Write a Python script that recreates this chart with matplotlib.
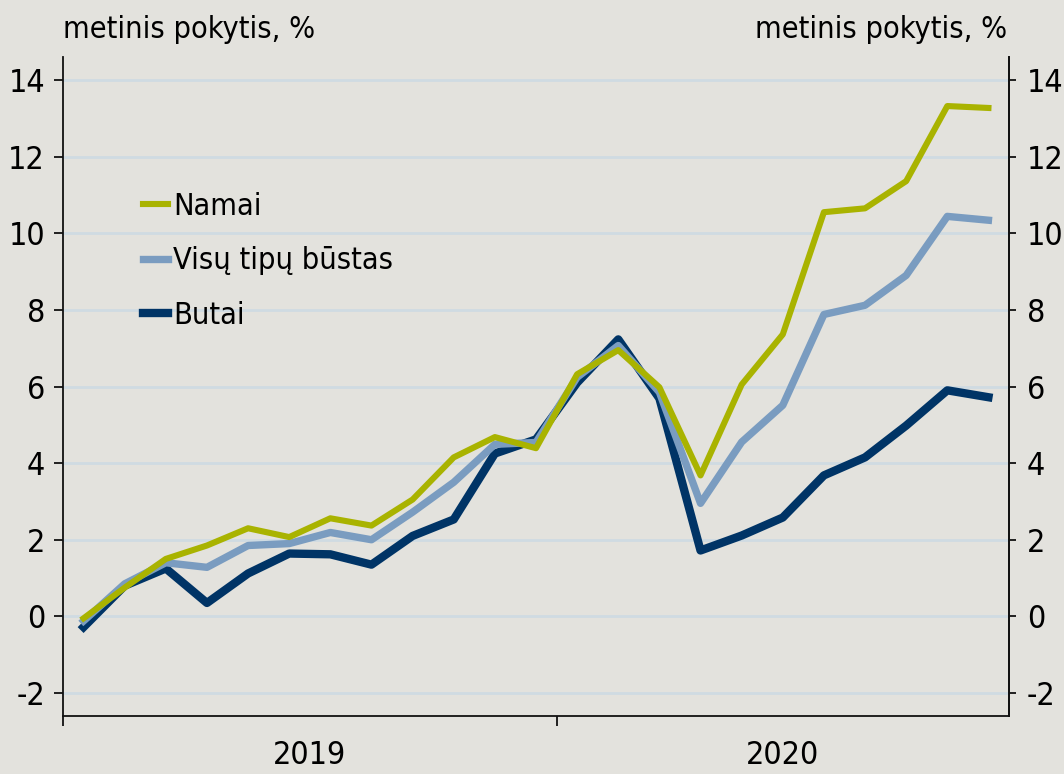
import matplotlib
matplotlib.use("Agg")
import matplotlib.pyplot as plt
import numpy as np

months = ["2019-01","2019-02","2019-03","2019-04","2019-05","2019-06","2019-07","2019-08",
          "2019-09","2019-10","2019-11","2019-12","2020-01","2020-02","2020-03","2020-04",
          "2020-05","2020-06","2020-07","2020-08","2020-09","2020-10","2020-11"]
namai = [-0.05, 0.75, 1.5, 1.85, 2.3, 2.07, 2.56, 2.37, 3.05, 4.15, 4.68, 4.39,
         6.32, 6.95, 5.98, 3.68, 6.05, 7.36, 10.55, 10.65, 11.36, 13.32, 13.27]
visu = [-0.12, 0.85, 1.4, 1.28, 1.85, 1.9, 2.19, 2.0, 2.72, 3.5, 4.49, 4.54,
        6.24, 7.07, 5.85, 2.95, 4.55, 5.51, 7.88, 8.12, 8.9, 10.44, 10.34]
butai = [-0.28, 0.8, 1.25, 0.35, 1.12, 1.64, 1.62, 1.35, 2.1, 2.53, 4.25, 4.62,
         6.1, 7.23, 5.69, 1.72, 2.11, 2.58, 3.68, 4.15, 4.98, 5.9, 5.72]
series_names = ["Namai", "Visų tipų būstas", "Butai"]
year_labels = ["2019", "2020"]
yticks = [-2, 0, 2, 4, 6, 8, 10, 12, 14]
ylabel = "metinis pokytis, %"

bg = "#e3e2dd"
c_namai = "#a9b300"
c_visu = "#7a9cc0"
c_butai = "#003466"
grid_c = "#cfdbe2"
ink = "#111111"

plt.rcParams["font.family"] = "DejaVu Sans"
plt.rcParams["font.stretch"] = "condensed"
FS = 22
FS_T = 23

fig = plt.figure(figsize=(10.64, 7.74), dpi=100, facecolor=bg)
ax = fig.add_axes([63/1064, 1-716/774, (1009-63)/1064, (716-57)/774])
ax.set_facecolor(bg)

x = np.arange(len(months))
ax.set_xlim(-0.5, len(months) - 0.5)
ax.set_ylim(-2.6, 14.6)

for v in yticks:
    ax.axhline(v, color=grid_c, lw=2, zorder=1)

ax.plot(x, butai, color=c_butai, lw=6.0, zorder=3, label=series_names[2])
ax.plot(x, visu, color=c_visu, lw=5.3, zorder=4, label=series_names[1])
ax.plot(x, namai, color=c_namai, lw=4.4, zorder=5, label=series_names[0])

ax.spines["top"].set_visible(False)
for s in ["left", "right", "bottom"]:
    ax.spines[s].set_color(ink)
    ax.spines[s].set_linewidth(1.3)

ax.set_yticks(yticks)
ax.set_yticklabels([str(v) for v in yticks])
ax.tick_params(axis="y", left=True, right=False, labelleft=True, labelright=False,
               length=6.5, width=1.3, color=ink, labelsize=FS_T, pad=6.5)
for lab in ax.get_yticklabels():
    lab.set_fontstretch("condensed")

ax2 = ax.twinx()
ax2.set_ylim(ax.get_ylim())
ax2.set_yticks(yticks)
ax2.set_yticklabels([str(v) for v in yticks])
ax2.tick_params(axis="y", right=True, labelright=True, length=5, width=1.3, color=ink,
                labelsize=FS_T, pad=8)
for lab in ax2.get_yticklabels():
    lab.set_fontstretch("condensed")
for s in ["top", "left", "bottom"]:
    ax2.spines[s].set_visible(False)
ax2.spines["right"].set_color(ink)
ax2.spines["right"].set_linewidth(1.3)

ax.set_xticks([-0.5, 11.5])
ax.set_xticklabels([])
ax.tick_params(axis="x", length=7, width=1.3, color=ink)

ax.text(5.5, -39/659, year_labels[0], transform=ax.get_xaxis_transform(), ha="center", va="center",
        fontsize=FS_T, fontstretch="condensed")
ax.text(17.0, -39/659, year_labels[1], transform=ax.get_xaxis_transform(), ha="center", va="center",
        fontsize=FS_T, fontstretch="condensed")

fig.text(63/1064, 1-30/774, ylabel, ha="left", va="center", fontsize=FS, fontstretch="condensed")
fig.text(1007/1064, 1-30/774, ylabel, ha="right", va="center", fontsize=FS, fontstretch="condensed")

handles, labels = ax.get_legend_handles_labels()
order = [2, 1, 0]
leg = ax.legend([handles[i] for i in order], [labels[i] for i in order],
                loc="upper left", bbox_to_anchor=(143/1064, 1-192/774),
                bbox_transform=fig.transFigure, frameon=False, borderpad=0, borderaxespad=0,
                handlelength=0.82, handletextpad=0.16, labelspacing=0.83,
                prop=dict(size=FS, family="DejaVu Sans", stretch="condensed"))

fig.savefig("out.png", dpi=100, facecolor=bg)
